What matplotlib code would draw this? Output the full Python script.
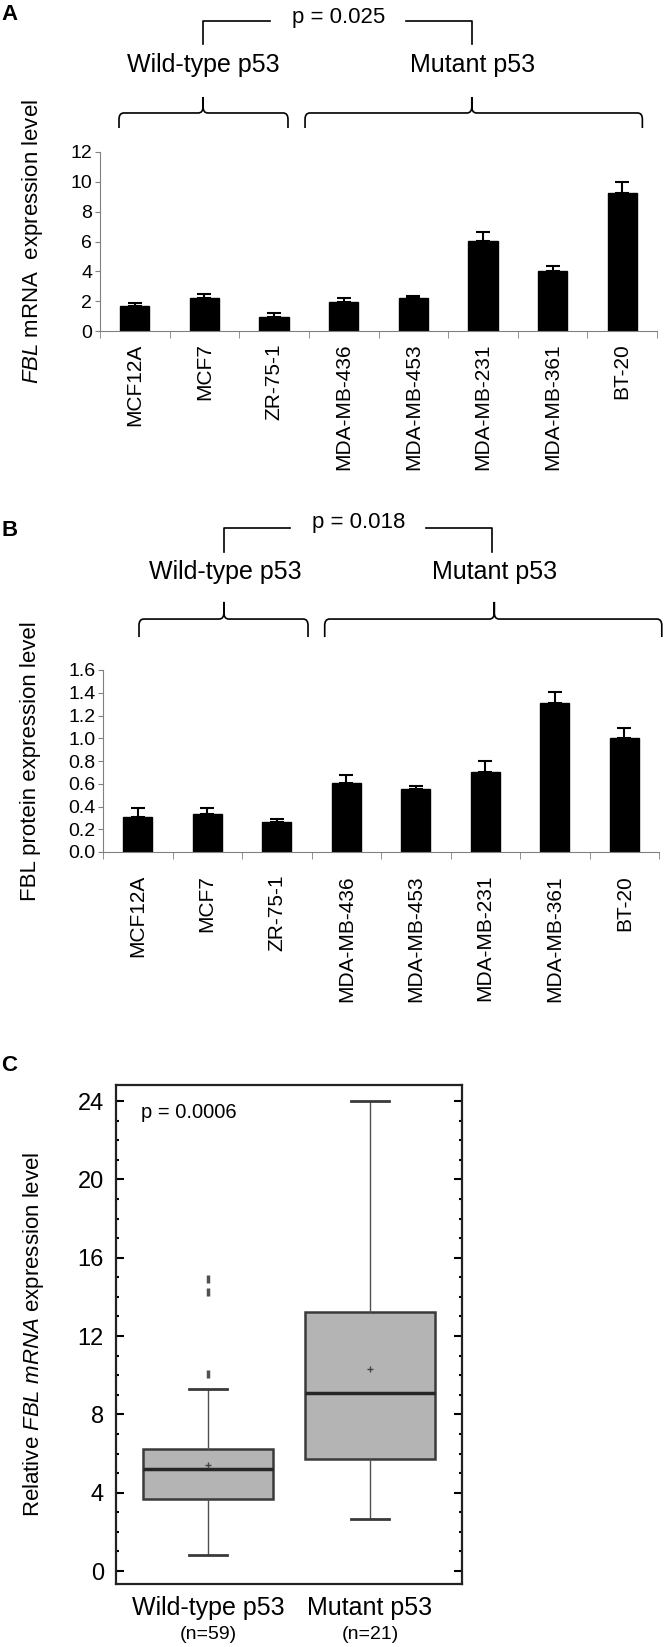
import numpy as np
import matplotlib
matplotlib.use('Agg')
import matplotlib.pyplot as plt
from matplotlib.path import Path
from matplotlib.patches import PathPatch

plt.rcParams['font.family'] = ['Liberation Sans', 'DejaVu Sans']
plt.rcParams['mathtext.fontset'] = 'custom'
plt.rcParams['mathtext.rm'] = 'Liberation Sans'
plt.rcParams['mathtext.it'] = 'Liberation Sans:italic'

################  data
cell_lines = ['MCF12A', 'MCF7', 'ZR-75-1', 'MDA-MB-436', 'MDA-MB-453',
              'MDA-MB-231', 'MDA-MB-361', 'BT-20']
mrna_mean = [1.67, 2.19, 0.96, 1.93, 2.19, 6.04, 3.99, 9.24]
mrna_err = [0.18, 0.32, 0.22, 0.25, 0.15, 0.58, 0.40, 0.77]
protein_mean = [0.31, 0.33, 0.26, 0.61, 0.55, 0.70, 1.31, 1.00]
protein_err = [0.08, 0.06, 0.03, 0.07, 0.03, 0.10, 0.10, 0.09]

group_names = ['Wild-type p53', 'Mutant p53']
p_text = ['p = 0.025', 'p = 0.018', 'p = 0.0006']

# panel C box statistics
box_labels = ['Wild-type p53', 'Mutant p53']
box_n = ['(n=59)', '(n=21)']
box_q1 = [3.68, 5.74]
box_med = [5.19, 9.07]
box_q3 = [6.21, 13.24]
box_lo = [0.83, 2.66]
box_hi = [9.28, 24.0]
box_mean = [5.41, 10.30]
box_fliers = [[10.06, 14.27, 14.9], []]

W, H = 664, 1647
fig = plt.figure(figsize=(W / 100, H / 100), dpi=100)


def px_axes(l, r, t, b):
    # pixel box -> figure fraction
    return fig.add_axes([l / W, 1 - b / H, (r - l) / W, (b - t) / H])


def brace(ax, x0, x1, xt, y_end, y_h, y_tip, rx=0.07, dy=0.035):
    tr = ax.get_xaxis_transform()
    L, C3, M = Path.LINETO, Path.CURVE3, Path.MOVETO
    verts = [(xt, y_tip), (xt, y_h + dy), (xt, y_h), (xt - rx, y_h),
             (x0 + rx, y_h), (x0, y_h), (x0, y_h - dy), (x0, y_end),
             (xt, y_tip), (xt, y_h + dy), (xt, y_h), (xt + rx, y_h),
             (x1 - rx, y_h), (x1, y_h), (x1, y_h - dy), (x1, y_end)]
    codes = [M, L, C3, C3, L, C3, C3, L] * 2
    ax.add_patch(PathPatch(Path(verts, codes), fc='none', ec='black',
                           lw=1.2, transform=tr, clip_on=False))


def bracket(ax, xl, xr, seg_l, seg_r, y_line, y_leg, xp, yp, txt):
    tr = ax.get_xaxis_transform()
    ax.plot([xl, xl, seg_l], [y_leg, y_line, y_line], color='black', lw=1.2,
            transform=tr, clip_on=False)
    ax.plot([seg_r, xr, xr], [y_line, y_line, y_leg], color='black', lw=1.2,
            transform=tr, clip_on=False)
    ax.text(xp, yp, txt, transform=tr, ha='center', va='center', fontsize=16)


def bar_panel(ax, vals, errs, ylim, yticks, fmt, ylabel, lab_x, xpad):
    x = np.arange(len(cell_lines))
    ax.bar(x, vals, width=0.42, color='black', edgecolor='black')
    ax.errorbar(x, vals, yerr=[np.zeros(len(vals)), errs], fmt='none',
                ecolor='black', elinewidth=1.5, capsize=5, capthick=1.5)
    ax.set_xlim(-0.5, len(cell_lines) - 0.5)
    ax.set_ylim(*ylim)
    ax.set_yticks(yticks)
    ax.set_yticklabels([fmt.format(v) for v in yticks], fontsize=14)
    ax.set_xticks(x)
    ax.set_xticklabels(cell_lines, rotation=90, fontsize=15, va='top')
    ax.set_xticks(np.arange(-0.5, len(cell_lines), 1), minor=True)
    ax.tick_params(axis='x', which='major', length=0, pad=xpad)
    ax.tick_params(axis='x', which='minor', length=5, color='#808080')
    ax.tick_params(axis='y', length=3.5, color='#808080', pad=2)
    for s in ['top', 'right']:
        ax.spines[s].set_visible(False)
    for s in ['left', 'bottom']:
        ax.spines[s].set_color('#808080')
    ax.set_ylabel(ylabel, fontsize=16)
    ax.yaxis.set_label_coords(lab_x, 0.5)


############### panel A
axA = px_axes(100, 657, 152, 331)
bar_panel(axA, mrna_mean, mrna_err, (0, 12), np.arange(0, 13, 2), '{:.0f}',
          r'$\it{FBL}$ mRNA  expression level', -0.098, 9)
brace(axA, -0.227, 2.20, 0.98, 1.134, 1.218, 1.307)
brace(axA, 2.445, 7.29, 4.84, 1.134, 1.218, 1.307)
axA.text(0.98, 1.486, group_names[0], transform=axA.get_xaxis_transform(),
         ha='center', va='center', fontsize=18)
axA.text(4.85, 1.486, group_names[1], transform=axA.get_xaxis_transform(),
         ha='center', va='center', fontsize=18)
bracket(axA, 0.98, 4.84, 1.94, 3.90, 1.732, 1.603, 2.93, 1.754, p_text[0])

############### panel B
axB = px_axes(103, 659, 670, 852)
bar_panel(axB, protein_mean, protein_err, (0, 1.6), np.arange(0, 1.61, 0.2),
          '{:.1f}', 'FBL protein expression level', -0.112, 16.5)
brace(axB, 0.018, 2.45, 1.24, 1.181, 1.280, 1.374)
brace(axB, 2.69, 7.54, 5.13, 1.181, 1.280, 1.374)
axB.text(1.255, 1.538, group_names[0], transform=axB.get_xaxis_transform(),
         ha='center', va='center', fontsize=18)
axB.text(5.14, 1.538, group_names[1], transform=axB.get_xaxis_transform(),
         ha='center', va='center', fontsize=18)
bracket(axB, 1.24, 5.10, 2.19, 4.15, 1.780, 1.648, 3.18, 1.808, p_text[1])

############### panel C
axC = px_axes(116.5, 462, 1085, 1584)
stats = []
for i in range(2):
    stats.append({'q1': box_q1[i], 'med': box_med[i], 'q3': box_q3[i],
                  'whislo': box_lo[i], 'whishi': box_hi[i],
                  'mean': box_mean[i], 'fliers': box_fliers[i]})
axC.bxp(stats, positions=[1, 2], widths=0.8, patch_artist=True,
        showmeans=True, showfliers=True,
        boxprops=dict(facecolor='#b4b4b4', edgecolor='#3a3a3a', linewidth=1.8),
        medianprops=dict(color='#262626', linewidth=2.5),
        whiskerprops=dict(color='#505050', linewidth=1),
        capprops=dict(color='#3a3a3a', linewidth=2),
        capwidths=0.24,
        meanprops=dict(marker='+', markersize=4, markeredgecolor='#444444',
                       markeredgewidth=1),
        flierprops=dict(marker='|', markersize=6, markeredgewidth=2.5,
                        markeredgecolor='#505050'))
axC.set_xlim(0.435, 2.568)
axC.set_ylim(-0.66, 24.82)
axC.set_yticks(np.arange(0, 25, 4))
axC.set_yticks(np.arange(0, 25, 1), minor=True)
axC.tick_params(axis='y', which='major', direction='in', left=True,
                right=True, length=6, width=1.5, labelsize=17, pad=9)
axC.tick_params(axis='y', which='minor', direction='in', left=True,
                right=True, length=2.5, width=1.5)
axC.set_xticks([1, 2])
axC.set_xticklabels(box_labels, fontsize=18)
axC.tick_params(axis='x', length=0, pad=9)
for i in range(2):
    axC.text(i + 1, -0.102, box_n[i], transform=axC.get_xaxis_transform(),
             ha='center', va='center', fontsize=14)
for s in axC.spines.values():
    s.set_linewidth(1.6)
    s.set_color('#222222')
axC.text(0.07, 0.945, p_text[2], transform=axC.transAxes, ha='left',
         va='center', fontsize=14.5)
axC.set_ylabel(r'Relative $\it{FBL\ mRNA}$ expression level', fontsize=16)
axC.yaxis.set_label_coords(-0.205, 0.5)

############### panel letters
fig.text(0.002, 0.991, 'A', fontsize=16, fontweight='bold', va='center')
fig.text(0.002, 0.678, 'B', fontsize=16, fontweight='bold', va='center')
fig.text(0.002, 0.353, 'C', fontsize=16, fontweight='bold', va='center')

fig.savefig('out.png', dpi=100)
